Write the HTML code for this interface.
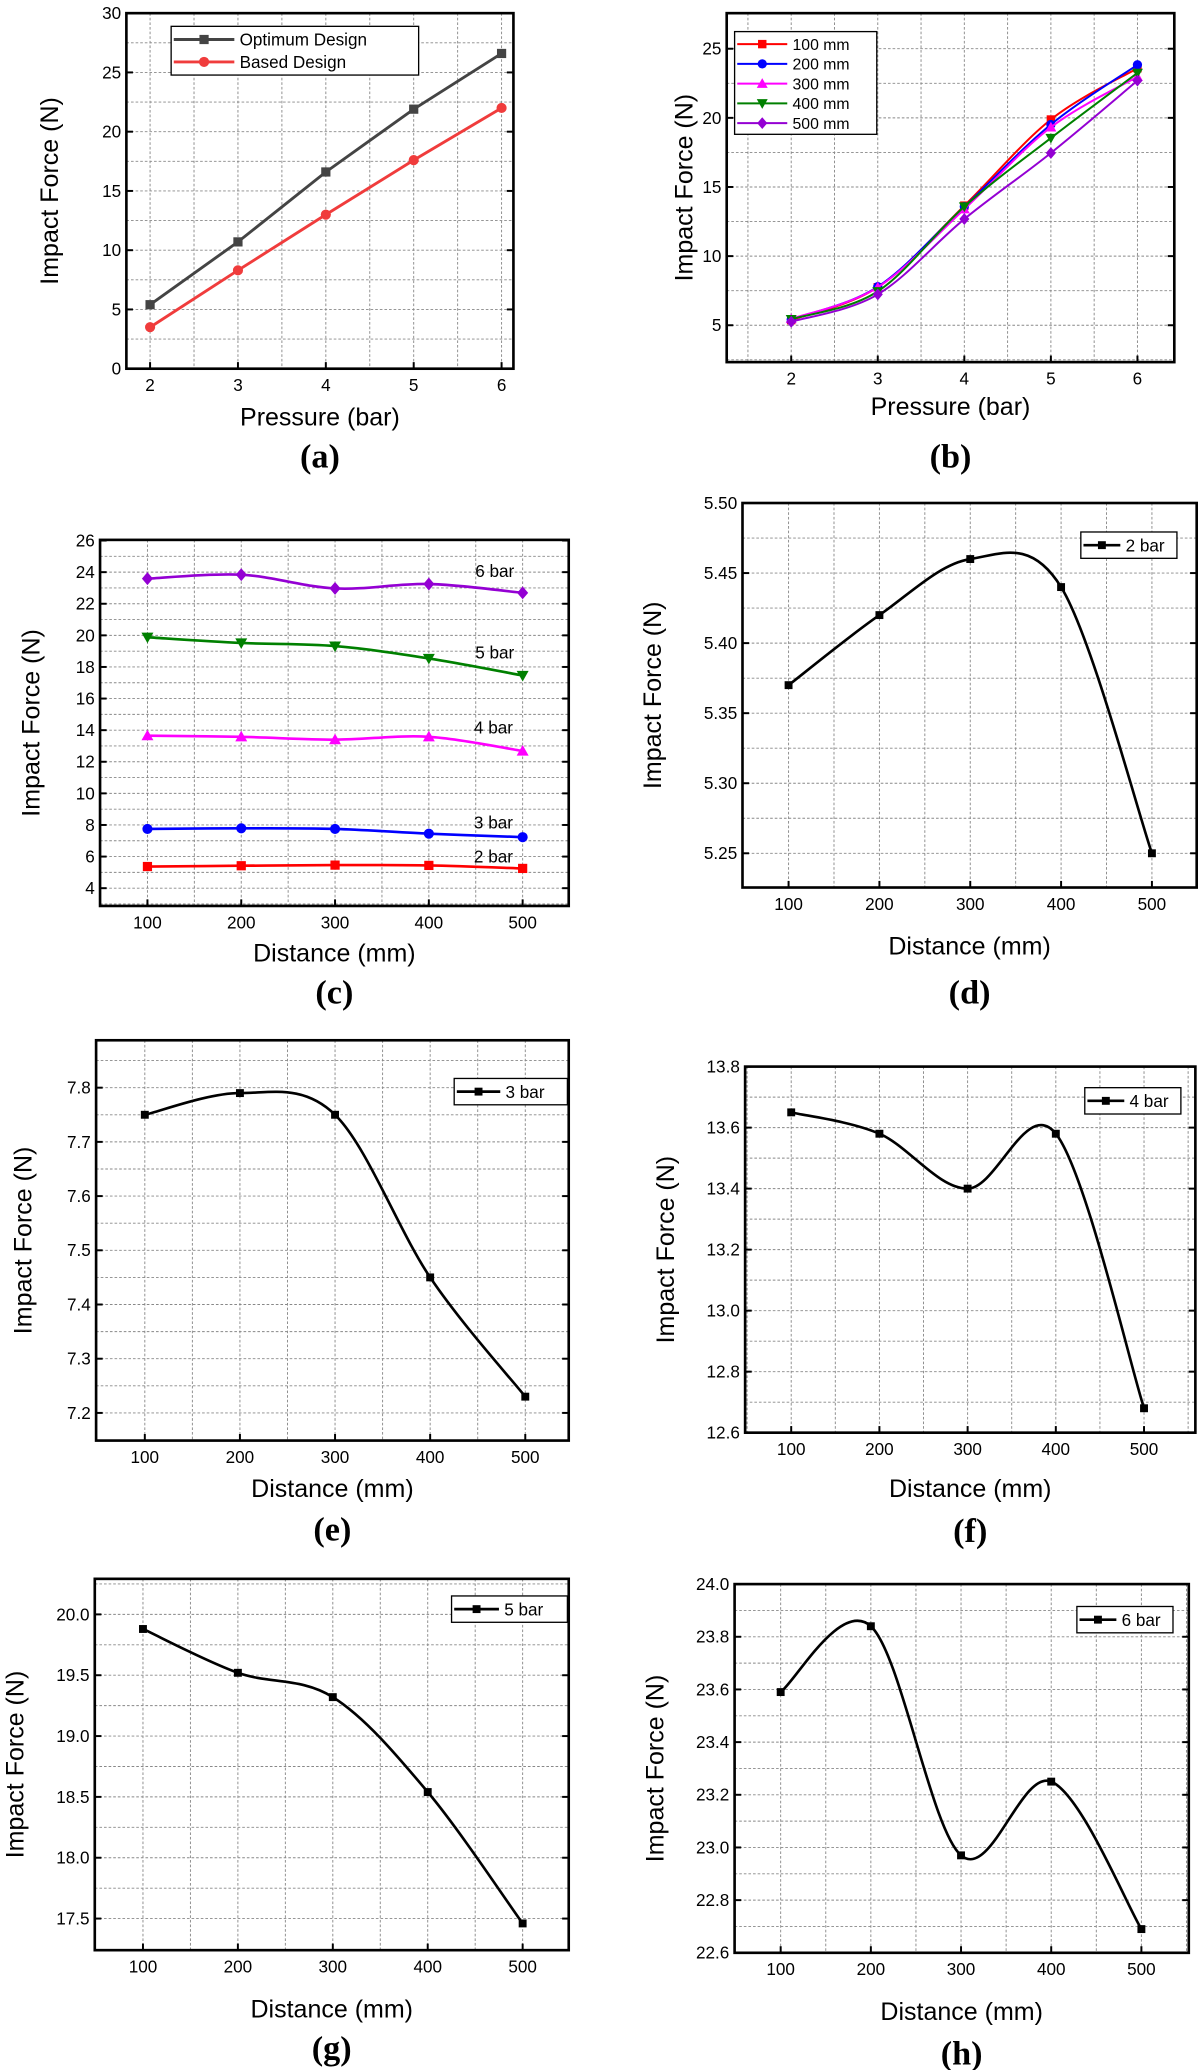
<!DOCTYPE html>
<html><head><meta charset="utf-8"><style>
html,body{margin:0;padding:0;background:#fff}
svg{display:block}
text{font-family:"Liberation Sans",sans-serif;fill:#000}
.pl{font-family:"Liberation Serif",serif;font-weight:bold;font-size:26px}
</style></head><body>
<svg id="fig" width="1198" height="2070" viewBox="0 0 910 1572" preserveAspectRatio="none" xmlns="http://www.w3.org/2000/svg"></svg>
<script>
const pressures=[2,3,4,5,6];
const distances=[100,200,300,400,500];
const optimumDesign=[5.4,10.7,16.6,21.9,26.6];
const basedDesign=[3.5,8.3,13.0,17.6,22.0];
const d100=[5.37,7.75,13.65,19.88,23.59];
const d200=[5.42,7.79,13.58,19.52,23.84];
const d300=[5.46,7.75,13.40,19.32,22.97];
const d400=[5.44,7.45,13.58,18.54,23.25];
const d500=[5.25,7.23,12.68,17.46,22.69];
const bar2=[5.37,5.42,5.46,5.44,5.25];
const bar3=[7.75,7.79,7.75,7.45,7.23];
const bar4=[13.65,13.58,13.40,13.58,12.68];
const bar5=[19.88,19.52,19.32,18.54,17.46];
const bar6=[23.59,23.84,22.97,23.25,22.69];
const yTicksA=[0,5,10,15,20,25,30];
const yTicksB=[5,10,15,20,25];
const yTicksC=[4,6,8,10,12,14,16,18,20,22,24,26];
const yTicksD=[5.25,5.30,5.35,5.40,5.45,5.50];
const yTicksE=[7.2,7.3,7.4,7.5,7.6,7.7,7.8];
const yTicksF=[12.6,12.8,13.0,13.2,13.4,13.6,13.8];
const yTicksG=[17.5,18.0,18.5,19.0,19.5,20.0];
const yTicksH=[22.6,22.8,23.0,23.2,23.4,23.6,23.8,24.0];

const NS="http://www.w3.org/2000/svg";
const svg=document.getElementById('fig');
function mk(tag,attrs,parent){const e=document.createElementNS(NS,tag);for(const k in attrs)e.setAttribute(k,attrs[k]);(parent||svg).appendChild(e);return e;}

function spline(pts){
  let d="M"+pts[0][0]+","+pts[0][1];
  for(let i=0;i<pts.length-1;i++){
    const p0=pts[i-1]||pts[i],p1=pts[i],p2=pts[i+1],p3=pts[i+2]||p2;
    const c1=[p1[0]+(p2[0]-p0[0])/6,p1[1]+(p2[1]-p0[1])/6];
    const c2=[p2[0]-(p3[0]-p1[0])/6,p2[1]-(p3[1]-p1[1])/6];
    d+=" C"+c1+" "+c2+" "+p2;
  }
  return d;
}
function marker(g,shape,x,y,color,s){
  let m;
  if(shape==='sq') m=mk('rect',{x:x-s,y:y-s,width:2*s,height:2*s,fill:color},g);
  else if(shape==='ci') m=mk('circle',{cx:x,cy:y,r:s*1.1,fill:color},g);
  else if(shape==='tu') m=mk('polygon',{points:`${x},${y-s*1.3} ${x-s*1.3},${y+s} ${x+s*1.3},${y+s}`,fill:color},g);
  else if(shape==='td') m=mk('polygon',{points:`${x},${y+s*1.3} ${x-s*1.3},${y-s} ${x+s*1.3},${y-s}`,fill:color},g);
  else m=mk('polygon',{points:`${x},${y-s*1.4} ${x+s*1.2},${y} ${x},${y+s*1.4} ${x-s*1.2},${y}`,fill:color},g);
  return m;
}

function panel(cfg){
  const g=mk('g',{});
  
  
  const {L,R,T,B,x0,x1,px0,px1,y0,y1,py0,py1}=cfg;
  const X=v=>px0+(v-x0)*(px1-px0)/(x1-x0);
  const Y=v=>py0+(v-y0)*(py1-py0)/(y1-y0);
  const gg=mk('g',{stroke:'#888','stroke-width':0.7,'stroke-dasharray':'2,1.5'},g);
  
  
  const xs=cfg.xticks, ys=cfg.yticks;
  const dx=xs[1]-xs[0], dy=ys[1]-ys[0];
  for(let v=xs[0]-dx/2;v<=xs[xs.length-1]+dx/2+1e-9;v+=dx/2){const x=X(v);if(x>L+1&&x<R-1)mk('line',{x1:x,y1:T,x2:x,y2:B},gg);}
  for(let v=ys[0]-dy*2;v<=ys[ys.length-1]+dy*2+1e-9;v+=dy/2){const y=Y(v);if(y>T+1&&y<B-1)mk('line',{x1:L,y1:y,x2:R,y2:y},gg);}
  const fr=mk('rect',{x:L,y:T,width:R-L,height:B-T,fill:'none',stroke:'#000','stroke-width':2},g);
  
  
  xs.forEach(v=>{const x=X(v);mk('line',{x1:x,y1:B,x2:x,y2:B-5,stroke:'#000','stroke-width':1.5},g);
    const t=mk('text',{x:x,y:B+17,'text-anchor':'middle','font-size':13},g);t.textContent=v;
    
    });
  ys.forEach(v=>{const y=Y(v);mk('line',{x1:L,y1:y,x2:L+5,y2:y,stroke:'#000','stroke-width':1.5},g);
    mk('line',{x1:R,y1:y,x2:R-5,y2:y,stroke:'#000','stroke-width':1.5},g);
    const t=mk('text',{x:L-4,y:y+4.5,'text-anchor':'end','font-size':13},g);t.textContent=cfg.fmt?v.toFixed(cfg.fmt):v;
    
    });
  const xt=mk('text',{x:(L+R)/2,y:cfg.xlY,'text-anchor':'middle','font-size':19},g);xt.textContent=cfg.xlabel;
  
  
  const yt=mk('text',{x:0,y:0,'text-anchor':'middle','font-size':19,transform:`translate(${cfg.ylX},${(T+B)/2}) rotate(-90)`},g);yt.textContent='Impact Force (N)';
  
  
  const pl=mk('text',{x:(L+R)/2,y:cfg.plY,'text-anchor':'middle',class:'pl'},g);pl.textContent='('+cfg.id+')';
  
  
  cfg.series.forEach(s=>{
    const sg=mk('g',{},g);
    
    
    const pts=cfg.xv.map((xv,i)=>[X(xv),Y(s.vals[i])]);
    const d=cfg.smooth?spline(pts):"M"+pts.map(p=>p.join(',')).join(' L');
    mk('path',{d:d,fill:'none',stroke:s.color,'stroke-width':s.w||2},sg);
    pts.forEach(p=>{const m=marker(sg,s.shape,p[0],p[1],s.color,s.ms||3.5);
      
      });
    if(s.label){const t=mk('text',{x:s.label[0],y:s.label[1],'font-size':13},sg);t.textContent=s.name;
      
      }
  });
  if(cfg.legend){
    const lg=mk('g',{},g);
    
    
    const lb=cfg.legend;
    mk('rect',{x:lb.x,y:lb.y,width:lb.w,height:lb.h,fill:'#fff',stroke:'#000','stroke-width':1},lg);
    cfg.series.filter(s=>!s.label).forEach((s,i)=>{
      const yy=lb.y+lb.pad+i*lb.step;
      const e=mk('g',{},lg);
      
      
      mk('line',{x1:lb.x+2,y1:yy,x2:lb.x+lb.ll,y2:yy,stroke:s.color,'stroke-width':s.w||2},e);
      marker(e,s.shape,lb.x+2+(lb.ll-2)/2,yy,s.color,s.ms||3.5);
      const t=mk('text',{x:lb.x+lb.ll+4,y:yy+lb.fs*0.36,'font-size':lb.fs},e);t.textContent=s.name;
    });
  }
}

panel({id:'a',L:96,R:390,T:10,B:280,x0:2,x1:6,px0:114,px1:381,y0:0,y1:30,py0:280,py1:10,
  xticks:pressures,yticks:yTicksA,xv:pressures,xlabel:'Pressure (bar)',xlY:323,ylX:44,plY:355,smooth:false,
  series:[{name:'Optimum Design',vals:optimumDesign,color:'#444',shape:'sq',w:2.2},{name:'Based Design',vals:basedDesign,color:'#f03c3c',shape:'ci',w:2.2}],
  legend:{x:130,y:20,w:188,h:37,pad:10,step:17,ll:48,fs:13}});

panel({id:'b',L:552,R:892,T:10,B:275,x0:2,x1:6,px0:601,px1:864,y0:5,y1:25,py0:247,py1:37,
  xticks:pressures,yticks:yTicksB,xv:pressures,xlabel:'Pressure (bar)',xlY:315,ylX:526,plY:355,smooth:true,
  series:[{name:'100 mm',vals:d100,color:'#ff0000',shape:'sq',w:1.5,ms:3.2},{name:'200 mm',vals:d200,color:'#0000ff',shape:'ci',w:1.5,ms:3.2},
    {name:'300 mm',vals:d300,color:'#ff00ff',shape:'tu',w:1.5,ms:3.2},{name:'400 mm',vals:d400,color:'#008000',shape:'td',w:1.5,ms:3.2},
    {name:'500 mm',vals:d500,color:'#9400d3',shape:'di',w:1.5,ms:3.2}],
  legend:{x:558,y:24,w:108,h:78,pad:9.5,step:15,ll:40,fs:12}});

panel({id:'c',L:76,R:432,T:410,B:688,x0:100,x1:500,px0:112,px1:397,y0:4,y1:26,py0:674.5,py1:410.5,
  xticks:distances,yticks:yTicksC,xv:distances,xlabel:'Distance (mm)',xlY:730,ylX:30,plY:762,smooth:true,
  series:[{name:'2 bar',vals:bar2,color:'#ff0000',shape:'sq',label:[360,655]},{name:'3 bar',vals:bar3,color:'#0000ff',shape:'ci',label:[360,629]},
    {name:'4 bar',vals:bar4,color:'#ff00ff',shape:'tu',label:[360,557]},{name:'5 bar',vals:bar5,color:'#008000',shape:'td',label:[361,500]},
    {name:'6 bar',vals:bar6,color:'#9400d3',shape:'di',label:[361,438]}]});

panel({id:'d',L:564,R:909,T:382,B:674,x0:100,x1:500,px0:599,px1:875,y0:5.25,y1:5.50,py0:648,py1:382,
  xticks:distances,yticks:yTicksD,xv:distances,fmt:2,xlabel:'Distance (mm)',xlY:725,ylX:502,plY:762,smooth:true,
  series:[{name:'2 bar',vals:bar2,color:'#000',shape:'sq',ms:3}],
  legend:{x:821,y:404,w:73,h:20,pad:10,step:15,ll:30,fs:13}});

panel({id:'e',L:73,R:432,T:790,B:1094,x0:100,x1:500,px0:110,px1:399,y0:7.2,y1:7.8,py0:1073,py1:826,
  xticks:distances,yticks:yTicksE,xv:distances,fmt:1,xlabel:'Distance (mm)',xlY:1137,ylX:24,plY:1170,smooth:true,
  series:[{name:'3 bar',vals:bar3,color:'#000',shape:'sq',ms:3}],
  legend:{x:345,y:819,w:86,h:20,pad:10,step:15,ll:35,fs:13}});

panel({id:'f',L:566,R:908,T:810,B:1088,x0:100,x1:500,px0:601,px1:869,y0:12.6,y1:13.8,py0:1088,py1:810,
  xticks:distances,yticks:yTicksF,xv:distances,fmt:1,xlabel:'Distance (mm)',xlY:1137,ylX:512,plY:1171,smooth:true,
  series:[{name:'4 bar',vals:bar4,color:'#000',shape:'sq',ms:3}],
  legend:{x:824,y:826,w:73,h:20,pad:10,step:15,ll:30,fs:13}});

panel({id:'g',L:72,R:432,T:1199,B:1481,x0:100,x1:500,px0:108.6,px1:397,y0:17.5,y1:20.0,py0:1457,py1:1226,
  xticks:distances,yticks:yTicksG,xv:distances,fmt:1,xlabel:'Distance (mm)',xlY:1532,ylX:18,plY:1564,smooth:true,
  series:[{name:'5 bar',vals:bar5,color:'#000',shape:'sq',ms:3}],
  legend:{x:343,y:1212,w:88,h:20,pad:10,step:15,ll:36,fs:13}});

panel({id:'h',L:558,R:903,T:1203,B:1483,x0:100,x1:500,px0:593,px1:867,y0:22.6,y1:24.0,py0:1483,py1:1203,
  xticks:distances,yticks:yTicksH,xv:distances,fmt:1,xlabel:'Distance (mm)',xlY:1534,ylX:504,plY:1568,smooth:true,
  series:[{name:'6 bar',vals:bar6,color:'#000',shape:'sq',ms:3}],
  legend:{x:818,y:1220,w:73,h:20,pad:10,step:15,ll:30,fs:13}});
</script>
</body></html>
